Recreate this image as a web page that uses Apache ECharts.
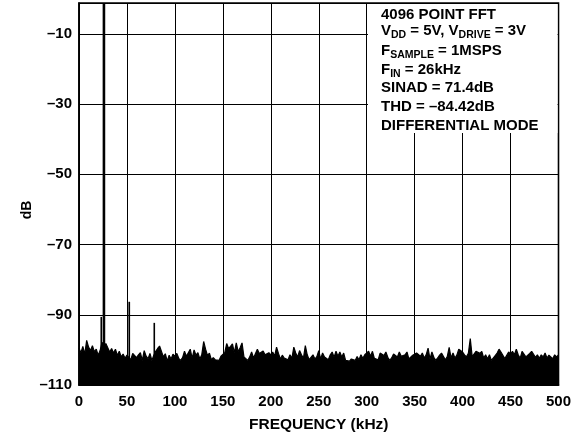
<!DOCTYPE html>
<html><head><meta charset="utf-8">
<script src="https://cdn.jsdelivr.net/npm/echarts@6/dist/echarts.min.js"></script>
<style>html,body{margin:0;padding:0;background:#fff}#c{width:583px;height:439px}</style>
</head><body><div id="c"></div>
<script>
// FFT noise floor, one reading every 2 kHz from 0 to 500 kHz (dB)
const noiseStepKHz = 2;
const noiseDb = [
  -99.5,-100.8,-99,-101.2,-97.3,-99.2,-100.2,-98.8,-100.5,-99.8,-101.5,-100.2,-97.8,-99,-98.2,-98.6,-100.6,-99.6,-100.9,-99.8,-101.6,-100.4,-102,-101.2,-102.4,
  -101.5,-102,-102.8,-101,-100.6,-102.2,-101.4,-100.8,-103,-100.2,-101.8,-102.5,-101,-103,-101.5,-100.4,-99.6,-98.9,-99.3,-102,-101.1,-103.2,-101.5,-102.6,-101.2,
  -101.8,-101,-102.4,-103,-102.2,-100.4,-101.8,-101.4,-99.8,-102.4,-100,-101.5,-100.8,-102.6,-101.4,-97.6,-99.8,-101.6,-100.9,-102.8,-102.2,-102.8,-102.3,-103,-101.8,
  -102,-100.8,-98.2,-99.6,-99,-98.3,-100.8,-98,-100.5,-99.4,-98,-102,-102.3,-103,-102,-100.6,-102.3,-101.9,-99.8,-101,-101.4,-100.3,-101.4,-101.9,-100.8,
  -101.4,-100.6,-101.8,-99.2,-101,-102.6,-101.5,-102.3,-101.9,-102.8,-101.4,-102.4,-99.2,-100.9,-102,-100.2,-101.4,-102.4,-98.8,-101.4,-102.8,-102.3,-101.4,-102.6,-101.9,
  -100.2,-102.6,-100.9,-102,-101.9,-102.8,-101.4,-100.6,-102.1,-100.4,-101.8,-100.6,-102,-100.9,-103,-102.6,-103.2,-102.6,-102.3,-103,-101.9,-102.8,-101.4,-102.4,-101.4,
  -101.5,-100.4,-101.8,-100.4,-102.4,-101.9,-102.8,-100.9,-100.4,-101.6,-100.6,-102.1,-103,-102.3,-101.2,-100.9,-102,-100.6,-101.8,-102.3,-101.4,-100.6,-102.6,-102.3,-101.5,
  -101.6,-100.9,-100.6,-101.8,-100.9,-102.3,-101.4,-99.5,-102.6,-100.6,-102.1,-103,-102.3,-101.5,-100.9,-101.4,-102.8,-101.9,-99.3,-102.3,-100.9,-102.3,-101.5,-99.8,-100,
  -100.6,-101.4,-102,-101,-96.8,-101.9,-102.4,-100.4,-100,-101,-100.4,-102.3,-101.4,-102.5,-101.4,-103,-102.6,-101.6,-100.9,-99.8,-100.6,-100.9,-102.5,-102.3,-100.6,
  -101.2,-100.4,-101.4,-99.8,-101.4,-102.4,-100.4,-100.8,-102,-102.3,-101,-100.4,-100.8,-102.1,-101.4,-102.4,-101.4,-102,-100.9,-102.3,-101.5,-101.9,-102.5,-101.4,-102,
  -101.4
];
// Fundamental and spurs
const spurFreq = [23.2, 26, 52.4, 78.5];
const spurDb   = [-90.6, 0, -86.3, -92.3];
const spurWidth = [1.6, 2.6, 1.7, 1.6];
// Axis ranges / ticks
const xMin = 0, xMax = 500, xStep = 50;
const yMin = -110, yMax = -1.2, yStep = 20;
const yTitle = 'dB';
const infoLines = [
  '{n|4096 POINT FFT}',
  '{n|V}{s|DD}{n| = 5V, V}{s|DRIVE}{n| = 3V}',
  '{n|F}{s|SAMPLE}{n| = 1MSPS}',
  '{n|F}{s|IN}{n| = 26kHz}',
  '{n|SINAD = 71.4dB}',
  '{n|THD = \u201384.42dB}',
  '{n|DIFFERENTIAL MODE}'
];
const infoY = [15, 31, 50.5, 69.5, 88.3, 107.2, 126];

const FF = '"Liberation Sans", Arial, Helvetica, sans-serif';
const noiseData = noiseDb.map((v, i) => [i * noiseStepKHz, v]);
const spurData = spurFreq.map((f, i) => [f, spurDb[i], spurWidth[i]]);

const chart = echarts.init(document.getElementById('c'), null, {renderer: 'canvas'});
const graphics = [{
  type: 'rect', z: 50, silent: true,
  shape: {x: 368, y: 4, width: 189.5, height: 129},
  style: {fill: '#fff'}
}, {
  type: 'text', z: 51, silent: true, x: 27, y: 210, rotation: Math.PI / 2,
  style: {text: yTitle, fontFamily: FF, fontWeight: 'bold', fontSize: 14, fill: '#000', align: 'center', verticalAlign: 'middle'}
}];
infoLines.forEach((t, i) => {
  graphics.push({
    type: 'text', z: 51, silent: true,
    style: {
      x: 381, y: infoY[i], text: t, verticalAlign: 'middle', align: 'left',
      rich: {
        n: {fontFamily: FF, fontWeight: 'bold', fontSize: 15, lineHeight: 20, verticalAlign: 'middle', fill: '#000', color: '#000'},
        s: {fontFamily: FF, fontWeight: 'bold', fontSize: 10.5, lineHeight: 11, verticalAlign: 'bottom', fill: '#000', color: '#000'}
      }
    }
  });
});

chart.setOption({
  animation: false,
  backgroundColor: '#fff',
  grid: {left: 79, right: 24.5, top: 3, bottom: 54, show: true, borderColor: '#000', borderWidth: 1.6, backgroundColor: 'transparent'},
  xAxis: {
    type: 'value', min: xMin, max: xMax, interval: xStep,
    name: 'FREQUENCY (kHz)', nameLocation: 'middle', nameGap: 40,
    nameTextStyle: {fontFamily: FF, fontWeight: 'bold', fontSize: 15.5, color: '#000', verticalAlign: 'middle'},
    axisLine: {show: true, lineStyle: {color: '#000', width: 1.6}},
    axisTick: {show: false},
    axisLabel: {fontFamily: FF, fontWeight: 'bold', fontSize: 15, color: '#000', margin: 9},
    splitLine: {show: true, lineStyle: {color: '#000', width: 1}}
  },
  yAxis: {
    type: 'value', min: yMin, max: yMax, interval: yStep,
    axisLine: {show: true, lineStyle: {color: '#000', width: 1.6}},
    axisTick: {show: false},
    axisLabel: {
      fontFamily: FF, fontWeight: 'bold', fontSize: 15, color: '#000', margin: 7, showMaxLabel: false,
      formatter: v => (Math.abs(Math.round(v) - v) < 1e-6 && ((v - yMin) % yStep === 0)) ? String(v).replace('-', '\u2013') : ''
    },
    splitLine: {show: true, lineStyle: {color: '#000', width: 1}}
  },
  graphic: graphics,
  series: [
    {
      type: 'line', data: noiseData, symbol: 'none', z: 3,
      lineStyle: {color: '#000', width: 1.2},
      areaStyle: {color: '#000', opacity: 1, origin: 'start'}
    },
    {
      type: 'custom', data: spurData, z: 4, clip: true,
      renderItem: (params, api) => {
        const p0 = api.coord([api.value(0), yMin]);
        const p1 = api.coord([api.value(0), api.value(1)]);
        return {type: 'line', shape: {x1: p0[0], y1: p0[1], x2: p1[0], y2: p1[1]},
          style: {stroke: '#000', lineWidth: api.value(2)}};
      }
    }
  ]
});
</script></body></html>
